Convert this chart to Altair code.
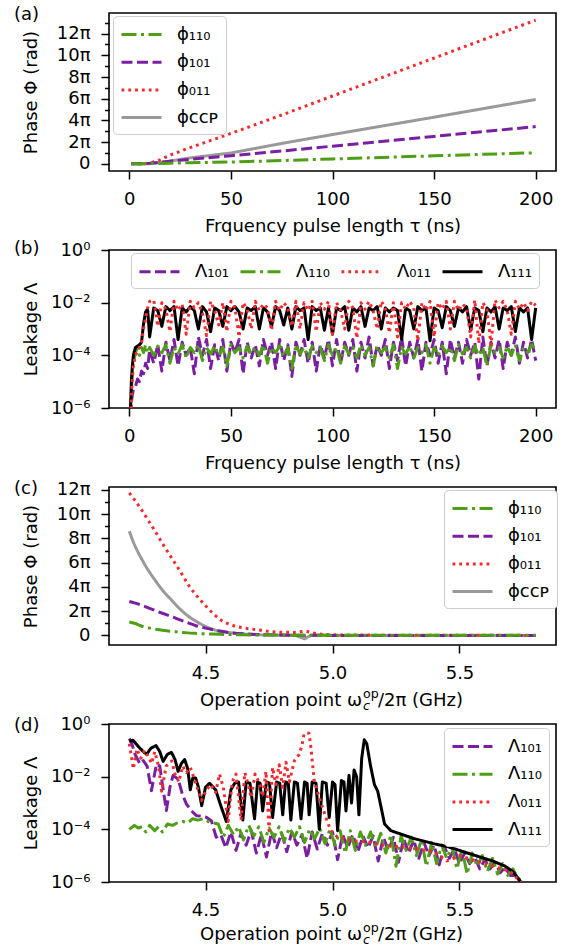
import altair as alt
import pandas as pd

FONT = "DejaVu Sans"

GREEN = "#4e9f16"
PURPLE = "#7b1fa2"
RED = "#f42a2f"
GRAY = "#999999"
BLACK = "#000000"

DASHDOT = [15, 4.5, 3, 4.5]
DASHED = [11, 4.5]
DOTTED = [2.8, 4.0]
SOLID = [1, 0]

PHI_NAMES = ["ϕ₁₁₀", "ϕ₁₀₁", "ϕ₀₁₁", "ϕᴄᴄᴘ"]
PHI_COLORS = [GREEN, PURPLE, RED, GRAY]
PHI_DASH = [DASHDOT, DASHED, DOTTED, SOLID]
LAM_NAMES = ["Λ₁₀₁", "Λ₁₁₀", "Λ₀₁₁", "Λ₁₁₁"]
LAM_COLORS = [PURPLE, GREEN, RED, BLACK]
LAM_DASH = [DASHED, DASHDOT, DOTTED, SOLID]

# ---------------- panel (a): phase (units of pi) vs pulse length ----------------
tau_a = [1, 5, 10, 15, 20, 30, 50, 75, 100, 150, 200]
phi110_a = [0, 0, 0.02, 0.04, 0.06, 0.10, 0.17, 0.30, 0.45, 0.74, 1.02]
phi101_a = [0, 0, 0.05, 0.15, 0.25, 0.42, 0.75, 1.18, 1.63, 2.53, 3.43]
phi011_a = [0, 0, 0.05, 0.35, 0.80, 1.50, 2.80, 4.50, 6.25, 9.75, 13.24]
phiccp_a = [0, 0, 0.02, 0.10, 0.25, 0.55, 1.00, 1.88, 2.70, 4.30, 5.93]

# ---------------- panel (b): log10 leakage vs pulse length ----------------
tau_b = [0.5, 1, 1.5, 2, 3, 4, 5, 6, 7, 8, 9] + list(range(10, 201, 2))
lam111_b = [-6.2, -5.0, -4.4, -4.0, -3.7, -3.65, -3.6, -3.5, -2.8, -2.35, -2.25,
            -3.3, -2.2, -2.3, -2.9, -2.15, -2.3, -2.15, -3.4, -2.2, -2.35,
            -2.15, -2.3, -3.0, -2.15, -2.35, -3.1, -2.2, -2.3, -2.9, -2.15,
            -2.3, -2.15, -2.35, -3.0, -2.2, -2.3, -2.15, -3.0, -2.2, -2.35,
            -2.9, -2.15, -2.3, -2.85, -2.2, -3.0, -2.15, -2.3, -2.2, -3.4,
            -2.15, -2.3, -2.2, -3.05, -2.2, -3.2, -2.2, -2.3, -2.15, -3.05,
            -2.2, -2.35, -2.15, -2.9, -2.2, -2.3, -2.15, -3.0, -2.2, -2.35,
            -2.2, -2.3, -3.4, -2.2, -2.3, -3.0, -2.15, -2.3, -2.2, -3.45,
            -2.2, -2.3, -2.95, -2.15, -2.3, -2.9, -2.2, -2.35, -2.15, -3.05,
            -2.2, -2.3, -3.1, -2.2, -2.35, -2.15, -3.0, -2.2, -2.3, -2.15,
            -3.1, -2.2, -2.35, -2.2, -3.4, -2.2]
lam011_b = [-6.3, -5.6, -4.9, -4.4, -4.0, -3.85, -3.7, -3.5, -3.0, -2.6, -2.2,
            -1.95, -1.9, -2.9, -2.0, -2.25, -3.1, -1.95, -2.3, -2.05, -3.2,
            -1.95, -2.2, -2.0, -2.4, -3.25, -1.95, -2.3, -2.85, -2.0, -3.1,
            -1.95, -2.2, -3.3, -2.0, -2.25, -3.0, -1.95, -2.3, -2.05, -2.2,
            -3.05, -1.95, -2.3, -2.0, -2.2, -2.9, -1.95, -3.0, -2.0, -2.3,
            -1.95, -3.1, -2.0, -2.25, -1.95, -3.2, -2.0, -2.3, -3.0, -1.95,
            -2.2, -3.35, -2.0, -2.25, -1.95, -2.3, -3.0, -1.95, -2.2, -3.15,
            -2.0, -3.3, -2.0, -2.25, -1.95, -2.2, -3.45, -2.0, -2.3, -1.95,
            -3.3, -2.0, -2.25, -1.95, -3.0, -1.95, -2.3, -2.05, -2.2, -3.3,
            -1.9, -3.55, -2.0, -2.25, -3.6, -1.9, -2.2, -1.95, -2.3, -3.2,
            -1.95, -2.25, -2.0, -2.3, -1.95, -2.1]
lam101_b = [-6.3, -5.8, -5.5, -5.3, -5.2, -4.9, -5.0, -4.6, -4.7, -4.3, -4.5,
            -3.8, -4.3, -3.6, -4.6, -3.5, -4.2, -3.4, -4.4, -3.5, -4.0,
            -3.7, -4.7, -3.3, -4.0, -3.4, -4.5, -3.6, -4.2, -3.4, -4.6,
            -3.5, -3.9, -3.4, -4.7, -3.5, -4.1, -3.6, -4.4, -3.4, -4.0,
            -3.5, -4.5, -3.4, -4.2, -3.6, -4.8, -3.5, -4.0, -3.4, -4.3,
            -3.5, -4.6, -3.6, -4.1, -3.4, -4.4, -3.4, -4.3, -3.5, -4.0,
            -3.4, -4.6, -3.5, -4.1, -3.3, -4.4, -3.6, -4.0, -3.4, -4.5,
            -3.5, -4.2, -3.3, -4.4, -3.5, -4.1, -3.4, -4.6, -3.5, -4.0,
            -3.4, -4.3, -3.5, -4.7, -3.4, -4.1, -3.5, -4.3, -3.4, -4.0,
            -3.5, -4.9, -3.3, -4.4, -3.5, -4.1, -3.4, -4.5, -3.5, -4.0,
            -3.3, -4.3, -3.5, -4.1, -3.4, -4.2]
lam110_b = [-6.2, -5.4, -4.7, -4.3, -3.9, -3.7, -4.0, -3.7, -3.9, -3.6, -3.9,
            -3.7, -4.0, -3.65, -3.9, -3.6, -4.3, -3.7, -3.95, -3.6, -4.1,
            -3.7, -3.9, -3.6, -4.2, -3.7, -3.95, -3.65, -4.0, -3.7, -4.4,
            -3.6, -3.9, -3.7, -4.1, -3.65, -3.95, -3.7, -4.0, -3.6, -4.3,
            -3.7, -3.9, -3.65, -4.05, -3.7, -4.5, -3.6, -3.95, -3.7, -4.1,
            -3.65, -3.9, -3.7, -4.2, -3.6, -4.0, -3.7, -4.3, -3.65, -3.95,
            -3.7, -4.1, -3.6, -4.0, -3.7, -4.4, -3.65, -3.9, -3.7, -4.1,
            -3.6, -4.5, -3.7, -3.95, -3.65, -4.1, -3.7, -3.9, -3.6, -4.3,
            -3.7, -4.0, -3.65, -3.9, -3.7, -4.2, -3.6, -3.95, -3.7, -4.1,
            -3.65, -4.0, -3.7, -4.4, -3.6, -3.9, -3.7, -4.1, -3.65, -4.0,
            -3.6, -4.2, -3.7, -3.9, -3.6, -3.8]

# ---------------- panel (c): phase (units of pi) vs operation point ----------------
f_c = [4.20, 4.22, 4.25, 4.28, 4.30, 4.33, 4.36, 4.40, 4.43, 4.46,
       4.50, 4.53, 4.56, 4.60, 4.65, 4.70, 4.75, 4.80, 4.85, 4.88,
       4.89, 4.90, 4.92, 4.95, 5.00, 5.20, 5.40, 5.60, 5.80]
phi011_c = [11.75, 11.2, 10.3, 9.3, 8.65, 7.6, 6.6, 5.3, 4.25, 3.4,
            2.45, 1.8, 1.28, 0.88, 0.62, 0.48, 0.33, 0.26, 0.25, 0.32,
            0.36, 0.33, 0.22, 0.12, 0.05, 0.02, 0.01, 0.01, 0.0]
phiccp_c = [8.6, 7.5, 6.25, 5.2, 4.6, 3.75, 3.05, 2.17, 1.62, 1.2,
            0.75, 0.5, 0.34, 0.22, 0.12, 0.06, 0.03, 0.02, 0.0, -0.2,
            -0.28, -0.15, 0.0, 0.01, 0.0, 0.0, 0.0, 0.0, 0.0]
phi101_c = [2.8, 2.68, 2.47, 2.23, 2.07, 1.83, 1.6, 1.28, 1.05, 0.82,
            0.6, 0.46, 0.34, 0.22, 0.13, 0.08, 0.05, 0.03, 0.02, 0.02,
            0.0, 0.02, 0.01, 0.01, 0.0, 0.0, 0.0, 0.0, 0.0]
phi110_c = [1.1, 1.0, 0.76, 0.6, 0.52, 0.43, 0.35, 0.27, 0.21, 0.17,
            0.13, 0.11, 0.09, 0.07, 0.05, 0.04, 0.03, 0.03, 0.02, 0.02,
            0.02, 0.02, 0.02, 0.02, 0.02, 0.02, 0.02, 0.02, 0.02]

# ---------------- panel (d): log10 leakage vs operation point ----------------
f111_d = [4.200, 4.215, 4.235, 4.255, 4.268, 4.285, 4.305, 4.320, 4.333, 4.350,
          4.366, 4.380, 4.392, 4.405, 4.418, 4.430, 4.440, 4.450, 4.461, 4.472,
          4.485, 4.500, 4.516, 4.540, 4.560, 4.582, 4.600, 4.615, 4.630, 4.647,
          4.660, 4.675, 4.693, 4.705, 4.715, 4.725, 4.740, 4.752, 4.764, 4.780,
          4.792, 4.804, 4.815, 4.826, 4.836, 4.850, 4.862, 4.876, 4.890, 4.900,
          4.908, 4.920, 4.935, 4.948, 4.960, 4.975, 4.987, 5.000, 5.010, 5.020,
          5.035, 5.045, 5.053, 5.065, 5.075, 5.085, 5.095, 5.104, 5.115, 5.125,
          5.135, 5.150, 5.165, 5.178, 5.190, 5.205, 5.230, 5.260, 5.320, 5.400,
          5.450, 5.500, 5.580, 5.630, 5.680, 5.710, 5.730, 5.750, 5.770, 5.800]
lam111_d = [-0.65, -0.62, -0.85, -1.05, -1.15, -0.92, -0.82, -1.05, -1.42, -1.15,
            -1.08, -1.35, -1.80, -1.50, -1.35, -1.70, -2.50, -2.05, -2.05, -2.40,
            -3.10, -2.40, -2.25, -2.50, -3.10, -3.70, -2.50, -2.25, -2.20, -3.65,
            -2.20, -2.25, -3.60, -2.20, -2.25, -3.30, -2.20, -2.25, -3.55, -2.20,
            -2.25, -3.45, -2.20, -2.25, -3.65, -2.20, -2.25, -3.60, -2.20, -2.25,
            -3.45, -2.20, -2.25, -4.00, -2.20, -2.25, -3.55, -2.20, -2.30, -4.05,
            -2.15, -2.20, -3.30, -1.95, -3.00, -1.75, -2.00, -3.45, -1.30, -0.60,
            -0.75, -1.60, -2.30, -2.55, -3.10, -3.80, -4.05, -4.15, -4.35, -4.55,
            -4.65, -4.80, -5.05, -5.20, -5.40, -5.60, -5.85, -6.10, -6.60, -7.20]
f011_d = [4.200, 4.216, 4.230, 4.245, 4.260, 4.275, 4.288, 4.300, 4.315, 4.327,
          4.345, 4.367, 4.380, 4.395, 4.410, 4.425, 4.440, 4.460, 4.484, 4.504,
          4.520, 4.540, 4.555, 4.570, 4.589, 4.605, 4.620, 4.640, 4.655, 4.668,
          4.680, 4.695, 4.710, 4.725, 4.738, 4.750, 4.764, 4.777, 4.790, 4.804,
          4.817, 4.830, 4.850, 4.869, 4.880, 4.888, 4.898, 4.908, 4.915, 4.928,
          4.948, 4.974, 4.993, 5.020, 5.060, 5.100, 5.150, 5.200, 5.300, 5.400,
          5.450, 5.500, 5.600, 5.700, 5.750, 5.800]
lam011_d = [-0.75, -1.70, -0.95, -1.30, -1.00, -1.25, -1.50, -1.05, -1.60, -2.55,
            -1.60, -1.40, -1.90, -2.20, -1.60, -1.85, -1.65, -2.20, -2.90, -2.50,
            -2.30, -2.60, -1.90, -2.40, -3.70, -2.20, -1.90, -3.65, -1.85, -2.30,
            -2.80, -1.90, -2.20, -2.75, -1.80, -4.05, -1.65, -2.30, -1.55, -2.40,
            -1.45, -2.20, -1.40, -1.15, -0.80, -0.38, -0.33, -0.36, -0.90, -2.15,
            -2.80, -3.55, -4.05, -4.30, -4.40, -4.45, -4.50, -4.60, -4.70, -4.85,
            -5.20, -5.00, -5.30, -5.60, -6.10, -7.00]
f101_d = ([4.200, 4.210, 4.222, 4.242, 4.255, 4.270, 4.287, 4.307, 4.320, 4.335,
           4.346, 4.360, 4.372, 4.392, 4.410, 4.425, 4.445, 4.464, 4.485, 4.503,
           4.523, 4.542]
          + [round(4.56 + 0.02 * i, 2) for i in range(60)] + [5.76, 5.80])
lam101_d = [-0.55, -0.75, -1.14, -1.52, -1.39, -1.60, -2.53, -1.52, -1.60, -2.60,
            -3.29, -2.40, -1.96, -2.09, -2.70, -3.04, -3.30, -3.48, -3.50, -3.54,
            -3.67, -4.30,
            -4.20, -4.70, -4.10, -4.80, -4.15, -4.60, -4.05, -4.90, -4.20, -5.05,
            -4.10, -4.70, -4.15, -4.85, -4.10, -4.60, -4.20, -5.10, -4.10, -4.75,
            -4.15, -4.60, -4.10, -5.15, -4.20, -4.70, -4.20, -4.85, -4.25, -4.70,
            -4.25, -5.20, -4.30, -4.80, -4.30, -5.25, -4.35, -4.90, -4.40, -5.10,
            -4.50, -5.00, -4.60, -5.35, -4.65, -5.10, -4.75, -5.30, -4.90, -5.30,
            -5.05, -5.50, -5.15, -5.50, -5.25, -5.65, -5.45, -5.75, -5.75, -6.00,
            -6.30, -7.00]
f110_d = ([4.200, 4.220, 4.235, 4.250, 4.265, 4.280, 4.300, 4.315, 4.330, 4.350,
           4.370, 4.390, 4.410, 4.430, 4.450, 4.470, 4.490, 4.510, 4.530]
          + [round(4.55 + 0.02 * i, 2) for i in range(60)] + [5.75, 5.77, 5.80])
lam110_d = [-4.00, -3.85, -3.95, -3.90, -4.10, -3.85, -4.05, -3.90, -4.10, -3.80,
            -3.85, -3.75, -3.70, -3.75, -3.60, -3.65, -3.60, -3.70, -3.75,
            -3.80, -4.30, -3.85, -4.20, -3.90, -4.40, -3.85, -4.25, -3.90, -4.50,
            -3.95, -4.30, -3.90, -4.45, -3.95, -4.30, -3.90, -4.50, -4.00, -4.35,
            -3.95, -4.55, -4.00, -4.60, -4.05, -4.90, -4.05, -4.80, -4.10, -4.60,
            -4.10, -4.70, -4.15, -4.90, -4.20, -5.40, -4.25, -4.80, -4.30, -5.00,
            -4.40, -5.40, -4.50, -5.30, -4.60, -5.10, -4.65, -5.50, -4.75, -5.70,
            -4.90, -5.40, -5.00, -5.60, -5.10, -5.70, -5.30, -5.75, -5.50, -5.85,
            -6.00, -6.50, -7.00]


def long_table(parts):
    rows = []
    for name, xs, ys in parts:
        for xv, yv in zip(xs, ys):
            rows.append({"s": name, "x": xv, "y": yv})
    return pd.DataFrame(rows)


df_a = long_table([("ϕᴄᴄᴘ", tau_a, phiccp_a), ("ϕ₀₁₁", tau_a, phi011_a),
                   ("ϕ₁₀₁", tau_a, phi101_a), ("ϕ₁₁₀", tau_a, phi110_a)])
df_b = long_table([("Λ₁₀₁", tau_b, lam101_b), ("Λ₁₁₀", tau_b, lam110_b),
                   ("Λ₁₁₁", tau_b, lam111_b), ("Λ₀₁₁", tau_b, lam011_b)])
df_c = long_table([("ϕᴄᴄᴘ", f_c, phiccp_c), ("ϕ₀₁₁", f_c, phi011_c),
                   ("ϕ₁₀₁", f_c, phi101_c), ("ϕ₁₁₀", f_c, phi110_c)])
df_d = long_table([("Λ₁₀₁", f101_d, lam101_d), ("Λ₁₁₀", f110_d, lam110_d),
                   ("Λ₁₁₁", f111_d, lam111_d), ("Λ₀₁₁", f011_d, lam011_d)])

W, H = 447, 158

PI_LABEL = "datum.value % 2 === 0 ? (datum.value === 0 ? '0' : datum.value + 'π') : ''"
LOG_LABEL = ("datum.value === 0 ? '10⁰' : datum.value === -2 ? '10⁻²' : "
             "datum.value === -4 ? '10⁻⁴' : '10⁻⁶'")
MINOR_SIZE = {"condition": {"test": "datum.value % 2 !== 0", "value": 4.5}, "value": 8}

# legend line symbol: 40 px long drawn from a 20 px symbol box
SYMBOL_PATH = "M-1,0H3"


def make_legend(x, y, horizontal=False):
    kw = dict(title=None, orient="none", legendX=x, legendY=y,
              symbolType=SYMBOL_PATH, symbolSize=400, symbolStrokeWidth=3,
              labelFont=FONT, labelFontSize=18, labelColor="black", labelOffset=34,
              padding=7, fillColor="white", strokeColor="#cccccc", cornerRadius=4,
              labelLimit=0)
    if horizontal:
        kw.update(direction="horizontal", columns=4, columnPadding=5)
    else:
        kw.update(direction="vertical", rowPadding=6.7)
    return alt.Legend(**kw)


def lines(df, names, colors, dashes, legend, xdom, xvals, xfmt, xtitle,
          ydom, yvals, ylabel, ytick, ytitle, interp="linear"):
    return alt.Chart(df).mark_line(
        clip=True, strokeWidth=3, strokeCap="butt", strokeJoin="round",
        interpolate=interp
    ).encode(
        x=alt.X("x:Q", scale=alt.Scale(domain=xdom, nice=False, zero=False),
                axis=alt.Axis(values=xvals, format=xfmt, title=xtitle,
                              titlePadding=9)),
        y=alt.Y("y:Q", scale=alt.Scale(domain=ydom, nice=False, zero=False),
                axis=alt.Axis(values=yvals, labelExpr=ylabel, tickSize=ytick,
                              title=ytitle, titleX=-73, titleAngle=270,
                              titleBaseline="alphabetic", titleAlign="center",
                              labelOverlap=False)),
        color=alt.Color("s:N", scale=alt.Scale(domain=names, range=colors), legend=legend),
        strokeDash=alt.StrokeDash("s:N", scale=alt.Scale(domain=names, range=dashes),
                                  legend=legend),
    )


ONE = pd.DataFrame({"k": [0]})


def text_piece(txt, xp, yp, fs=18, align="left", style="normal"):
    return alt.Chart(ONE).mark_text(
        text=txt, align=align, baseline="alphabetic", font=FONT, fontSize=fs,
        fontStyle=style, color="black").encode(x=alt.value(xp), y=alt.value(yp))


def panel_label(txt, ybase):
    return text_piece(txt, -95, ybase)


def omega_title(ybase):
    return [
        text_piece("Operation point ω", 253, ybase, align="right"),
        text_piece("op", 254, ybase - 8, fs=12.6),
        text_piece("c", 254, ybase + 4, fs=12.6, style="italic"),
        text_piece("/2π (GHz)", 269, ybase),
    ]


TAU_TITLE = "Frquency pulse length τ (ns)"

pa = alt.layer(
    lines(df_a, PHI_NAMES, PHI_COLORS, PHI_DASH, make_legend(4, 3),
          [-10, 210], [0, 50, 100, 150, 200], "d", TAU_TITLE,
          [-0.66, 13.9], list(range(0, 14)), PI_LABEL, MINOR_SIZE, "Phase Φ (rad)"),
    panel_label("(a)", 7),
).properties(width=W, height=H)

pb = alt.layer(
    lines(df_b, LAM_NAMES, LAM_COLORS, LAM_DASH, make_legend(22, 3, horizontal=True),
          [-10, 210], [0, 50, 100, 150, 200], "d", TAU_TITLE,
          [-6, 0], [-6, -4, -2, 0], LOG_LABEL, 8, "Leakage Λ"),
    panel_label("(b)", 4),
).properties(width=W, height=H)

pc = alt.layer(
    lines(df_c, PHI_NAMES, PHI_COLORS, PHI_DASH, make_legend(335, 3),
          [4.12, 5.88], [4.5, 5.0, 5.5], ".1f", None,
          [-0.79, 12.24], list(range(0, 13)), PI_LABEL, MINOR_SIZE, "Phase Φ (rad)",
          interp="monotone"),
    panel_label("(c)", 7),
    *omega_title(219),
).properties(width=W, height=H)

pdd = alt.layer(
    lines(df_d, LAM_NAMES, LAM_COLORS, LAM_DASH, make_legend(335, 4),
          [4.12, 5.88], [4.5, 5.0, 5.5], ".1f", None,
          [-6, 0], [-6, -4, -2, 0], LOG_LABEL, 8, "Leakage Λ"),
    panel_label("(d)", 7),
    *omega_title(216),
).properties(width=W, height=H)

chart = alt.vconcat(pa, pb, pc, pdd, spacing=79, bounds="flush").resolve_scale(
    x="independent", y="independent", color="independent", strokeDash="independent"
).properties(
    padding={"left": 13, "top": 5, "right": 5, "bottom": 0}
).configure(font=FONT).configure_axis(
    labelFont=FONT, labelFontSize=18, labelColor="black", titleFont=FONT,
    titleFontSize=18, titleFontWeight="normal", titleColor="black",
    tickColor="black", tickWidth=1.5, tickSize=8, domain=False, grid=False,
    labelPadding=11, labelFlush=False
).configure_view(stroke="black", strokeWidth=1.6)

chart.save("out.html", embed_options={"renderer": "svg", "actions": False})
